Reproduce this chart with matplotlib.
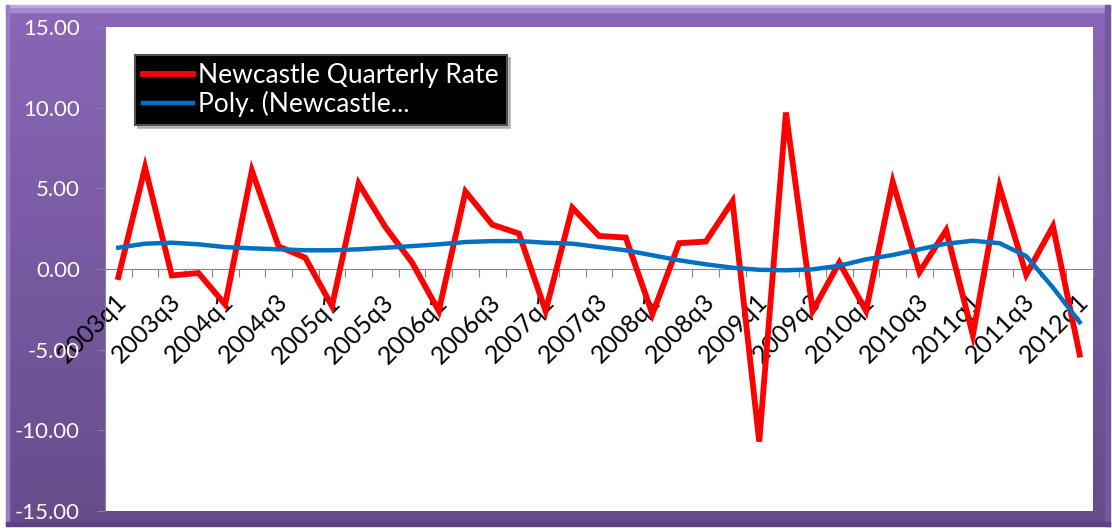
import matplotlib.pyplot as plt
import numpy as np
from matplotlib.patches import Rectangle
import matplotlib.transforms as mtransforms

plt.rcParams['font.family'] = ['Lato', 'DejaVu Sans']

# quarters 2003q1 .. 2012q1
quarters = [f'{y}q{q}' for y in range(2003, 2013) for q in range(1, 5)][:37]

rate = [-0.5, 6.3, -0.4, -0.25, -2.2, 6.1, 1.4, 0.7, -2.3, 5.3,
        2.6, 0.4, -2.6, 4.8, 2.75, 2.2, -2.6, 3.8, 2.05, 1.95,
        -2.8, 1.6, 1.7, 4.2, -10.7, 9.7, -2.6, 0.4, -2.6, 5.4,
        -0.2, 2.4, -4.1, 5.1, -0.35, 2.65, -5.3]

# polynomial trend line as drawn in the chart
trend = [1.32, 1.57, 1.63, 1.53, 1.36, 1.28, 1.22, 1.16, 1.16, 1.22,
         1.32, 1.42, 1.53, 1.67, 1.73, 1.73, 1.63, 1.57, 1.36, 1.16,
         0.85, 0.54, 0.29, 0.08, -0.05, -0.08, -0.02, 0.2, 0.6, 0.87,
         1.22, 1.57, 1.75, 1.6, 0.8, -1.15, -3.3]

yticks = [-15, -10, -5, 0, 5, 10, 15]

W, H = 1112, 528
fig = plt.figure(figsize=(W / 100, H / 100), dpi=100)
fig.patch.set_facecolor('white')

# purple gradient frame
bg = fig.add_axes([0, 0, 1, 1])
bg.set_axis_off()
bg.set_xlim(0, W)
bg.set_ylim(H, 0)
top_c = np.array([0x8a, 0x67, 0xb7]) / 255
bot_c = np.array([0x66, 0x4c, 0x8b]) / 255
t = np.linspace(0, 1, 256)[:, None]
grad = (top_c[None, :] * (1 - t) + bot_c[None, :] * t)[:, None, :]
bg.imshow(grad, extent=[6, 1110, 526, 5], aspect='auto', zorder=0)
bg.add_patch(Rectangle((6, 5), 1104, 3, color='#c3abe8', zorder=1))
bg.add_patch(Rectangle((6, 8), 1104, 4, color='#a88ad4', zorder=1))
bg.add_patch(Rectangle((6, 5), 3, 521, color='#9a7cc6', zorder=1))
bg.add_patch(Rectangle((1105, 5), 5, 521, color='#7458a0', zorder=1))
bg.add_patch(Rectangle((6, 522), 1104, 4, color='#5c4480', zorder=1))

ax = fig.add_axes([105 / W, 1 - 511 / H, (1093 - 105) / W, (511 - 27) / H])
ax.set_facecolor('white')

x = np.arange(len(quarters))
ax.plot(x, rate, color='#ff0000', lw=4.2, solid_joinstyle='miter',
        label='Newcastle Quarterly Rate', zorder=3)
ax.plot(x, trend, color='#0070c0', lw=3.2, label='Poly. (Newcastle...', zorder=4)

ax.set_xlim(-0.5, len(quarters) - 0.5)
ax.set_ylim(-15, 15)

for s in ['top', 'right']:
    ax.spines[s].set_visible(False)
ax.spines['bottom'].set_position(('data', 0))
ax.spines['bottom'].set_color('#868686')
ax.spines['left'].set_color('#868686')

ax.set_yticks(yticks)
ax.set_yticklabels([f'{v:.2f}' for v in yticks], color='white', fontsize=16)
ax.tick_params(axis='y', length=6, color='#868686', pad=12)

# tick marks between categories, labels on every other category
ax.set_xticks(np.arange(-0.5, len(quarters), 1.0))
ax.set_xticklabels([])
ax.tick_params(axis='x', which='major', length=6, color='#868686', direction='out')
ax.set_xticks(x[::2], quarters[::2], minor=True)
ax.tick_params(axis='x', which='minor', length=0, pad=21, labelsize=18, labelcolor='black')
for lab in ax.get_xticklabels(minor=True):
    lab.set_rotation(45)
    lab.set_ha('right')
    lab.set_va('center')
    lab.set_rotation_mode('anchor')
    lab.set_transform(lab.get_transform() + mtransforms.ScaledTranslation(5 / 100, 0, fig.dpi_scale_trans))

leg = ax.legend(loc='upper left', bbox_to_anchor=(135 / W, 1 - 55 / H),
                bbox_transform=fig.transFigure, borderaxespad=0,
                fontsize=19, labelcolor='white', facecolor='black',
                edgecolor='#505050', framealpha=1, fancybox=False,
                handlelength=1.9, handletextpad=0.2, labelspacing=0.12,
                borderpad=0.3, shadow={'color': '#999999', 'alpha': 0.6})
leg.get_frame().set_linewidth(1.5)

fig.savefig('out.png', dpi=100)
